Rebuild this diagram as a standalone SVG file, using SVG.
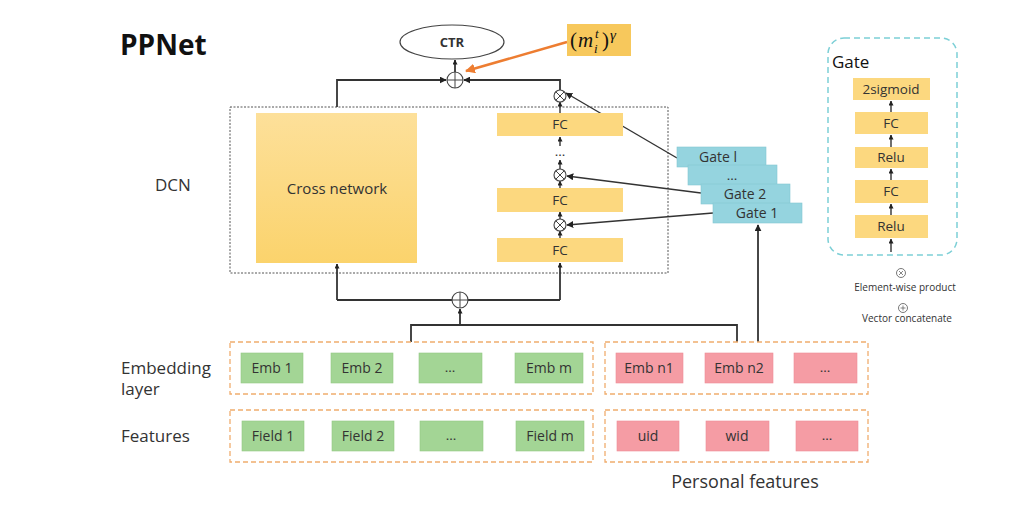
<svg xmlns="http://www.w3.org/2000/svg" width="1024" height="506" viewBox="0 0 1024 506">
<style>
text{font-family:"Open Sans","Noto Sans","Liberation Sans",sans-serif;fill:#333}
.lbl{font-size:17px}
.ctr{text-anchor:middle}
.yl{fill:#fcd87f}
.gr{fill:#a3d595;stroke:#93c884;stroke-width:0.6}
.rd{fill:#f59ca4;stroke:#ee8d96;stroke-width:0.6}
.gt{fill:#95d4df;stroke:#84c6d2;stroke-width:0.6}
.grp{fill:none;stroke:#f0ad6e;stroke-width:1.3;stroke-dasharray:5 3}
.ln{fill:none;stroke:#333;stroke-width:1.8}
.thin{fill:none;stroke:#333;stroke-width:1.4}
.op{fill:#fff;stroke:#444;stroke-width:1.1}
.box{font-size:14px}
.fc{font-size:13.5px}
.m{font-family:"Liberation Serif",serif;font-style:italic;fill:#111}
</style>
<defs>
<marker id="ah" viewBox="0 0 10 10" refX="9" refY="5" markerWidth="7" markerHeight="7" orient="auto" markerUnits="userSpaceOnUse"><path d="M0,0 L10,5 L0,10 z" fill="#222"/></marker>
<marker id="ahs" viewBox="0 0 10 10" refX="9" refY="5" markerWidth="5" markerHeight="5" orient="auto" markerUnits="userSpaceOnUse"><path d="M0,0 L10,5 L0,10 z" fill="#222"/></marker>
<marker id="aho" viewBox="0 0 10 10" refX="9" refY="5" markerWidth="10" markerHeight="10" orient="auto" markerUnits="userSpaceOnUse"><path d="M0,0 L10,5 L0,10 z" fill="#ed7d31"/></marker>
<linearGradient id="yg" x1="0" y1="0" x2="0" y2="1"><stop offset="0" stop-color="#fde09a"/><stop offset="1" stop-color="#fbd36c"/></linearGradient>
</defs>

<text x="120" y="55" style="font-size:28px;font-weight:bold;fill:#111">PPNet</text>
<text x="155" y="191" class="lbl">DCN</text>
<text x="121" y="374" class="lbl">Embedding</text>
<text x="121" y="395" class="lbl">layer</text>
<text x="121" y="442" class="lbl">Features</text>
<text x="745" y="488" class="ctr" style="font-size:18px">Personal features</text>

<rect x="230" y="107" width="438" height="166" fill="none" stroke="#555" stroke-width="1" stroke-dasharray="2 1.5"/>

<g id="connectors">
<path class="ln" d="M337,107 V80 H446" marker-end="url(#ah)"/>
<path class="ln" d="M560,90 V80 H464" marker-end="url(#ah)"/>
<path class="ln" d="M455,72 V60" marker-end="url(#ahs)"/>
<path d="M567,42 L466,71" fill="none" stroke="#ed7d31" stroke-width="2.5" marker-end="url(#aho)"/>
<path class="thin" d="M560,113 V102" marker-end="url(#ahs)"/>
<path class="thin" d="M560,146 V137" marker-end="url(#ahs)"/>
<path class="thin" d="M560,169 V160" marker-end="url(#ahs)"/>
<path class="thin" d="M560,188 V181" marker-end="url(#ahs)"/>
<path class="thin" d="M560,219 V212" marker-end="url(#ahs)"/>
<path class="thin" d="M560,238 V231" marker-end="url(#ahs)"/>
<path class="ln" d="M337,300 H560"/>
<path class="ln" d="M337,300 V264" marker-end="url(#ahs)"/>
<path class="ln" d="M560,300 V263" marker-end="url(#ahs)"/>
<path class="ln" d="M460,325 V309" marker-end="url(#ahs)"/>
<path class="ln" d="M411,342 V325 H737 V342"/>
<path class="ln" d="M758,342 V225" marker-end="url(#ah)"/>
<path class="thin" d="M677,158 L566,93" marker-end="url(#ah)"/>
<path class="thin" d="M701,193 L567,176" marker-end="url(#ah)"/>
<path class="thin" d="M713,213 L567,225" marker-end="url(#ah)"/>
<path class="thin" d="M891,112 V101" marker-end="url(#ahs)"/>
<path class="thin" d="M891,147 V135" marker-end="url(#ahs)"/>
<path class="thin" d="M891,180 V169" marker-end="url(#ahs)"/>
<path class="thin" d="M891,215 V204" marker-end="url(#ahs)"/>
<path class="thin" d="M891,252 V239" marker-end="url(#ahs)"/>
</g>

<g id="ctr"><ellipse cx="452" cy="42" rx="52" ry="17" fill="#fff" stroke="#444" stroke-width="1.2"/><text x="452" y="47" class="ctr" style="font-size:13px;font-weight:bold">CTR</text></g>
<g id="gamma"><rect x="567" y="24" width="64" height="32" fill="#f7c85c"/>
<text x="570" y="47" class="m" style="font-style:normal;font-size:21px">(</text>
<text x="578" y="47" class="m" style="font-size:21px">m</text>
<text x="594" y="53" class="m" style="font-size:13px">i</text>
<text x="595" y="38" class="m" style="font-size:13px">t</text>
<text x="602" y="47" class="m" style="font-style:normal;font-size:21px">)</text>
<text x="610" y="40" class="m" style="font-size:15px">γ</text>
</g>

<g id="concat-top"><circle cx="455" cy="80" r="8" class="op"/><path d="M447,80 H463 M455,72 V88" stroke="#444" stroke-width="1"/></g>
<g id="concat-bottom"><circle cx="460" cy="300" r="8" class="op"/><path d="M452,300 H468 M460,292 V308" stroke="#444" stroke-width="1"/></g>
<g id="prod-top"><circle cx="560" cy="96" r="6" class="op"/><path d="M556,92 L564,100 M564,92 L556,100" stroke="#444" stroke-width="1"/></g>
<g id="prod-2"><circle cx="560" cy="175" r="6" class="op"/><path d="M556,171 L564,179 M564,171 L556,179" stroke="#444" stroke-width="1"/></g>
<g id="prod-1"><circle cx="560" cy="225" r="6" class="op"/><path d="M556,221 L564,229 M564,221 L556,229" stroke="#444" stroke-width="1"/></g>

<g id="cross"><rect x="256" y="113" width="161" height="150" fill="url(#yg)"/><text x="337" y="194" class="ctr" style="font-size:15px">Cross network</text></g>
<g id="fc-l"><rect x="497" y="113" width="126" height="23" class="yl"/><text x="560" y="129" class="ctr fc">FC</text></g>
<text x="560" y="156" class="ctr fc">...</text>
<g id="fc-2"><rect x="497" y="188" width="126" height="24" class="yl"/><text x="560" y="205" class="ctr fc">FC</text></g>
<g id="fc-1"><rect x="497" y="238" width="126" height="24" class="yl"/><text x="560" y="255" class="ctr fc">FC</text></g>

<g id="gate-l"><rect x="677" y="147" width="89" height="20" class="gt"/><text x="718" y="162" class="ctr box">Gate l</text></g>
<g id="gate-dots"><rect x="688" y="165" width="89" height="20" class="gt"/><text x="732" y="180" class="ctr fc">...</text></g>
<g id="gate-2"><rect x="701" y="184" width="89" height="20" class="gt"/><text x="745" y="199" class="ctr box">Gate 2</text></g>
<g id="gate-1"><rect x="713" y="203" width="89" height="20" class="gt"/><text x="757" y="218" class="ctr box">Gate 1</text></g>

<g id="gate-legend">
<rect x="828" y="38" width="129" height="217" rx="16" fill="none" stroke="#7ccfd6" stroke-width="1.5" stroke-dasharray="6 4"/>
<text x="832" y="68" style="font-size:17px;fill:#111">Gate</text>
<rect x="853" y="78" width="77" height="22" class="yl"/><text x="891" y="94" class="ctr fc">2sigmoid</text>
<rect x="855" y="112" width="73" height="22" class="yl"/><text x="891" y="128" class="ctr fc">FC</text>
<rect x="855" y="147" width="73" height="21" class="yl"/><text x="891" y="162" class="ctr fc">Relu</text>
<rect x="855" y="180" width="73" height="23" class="yl"/><text x="891" y="196" class="ctr fc">FC</text>
<rect x="855" y="215" width="73" height="23" class="yl"/><text x="891" y="231" class="ctr fc">Relu</text>
</g>
<g id="legend">
<circle cx="901" cy="273" r="4.5" fill="#fff" stroke="#555" stroke-width="0.8"/><path d="M899,271 L903,275 M903,271 L899,275" stroke="#555" stroke-width="0.7"/>
<text x="905" y="291" class="ctr" style="font-size:10px">Element-wise product</text>
<circle cx="903" cy="308" r="4.5" fill="#fff" stroke="#555" stroke-width="0.8"/><path d="M900.5,308 H905.5 M903,305.5 V310.5" stroke="#555" stroke-width="0.7"/>
<text x="907" y="322" class="ctr" style="font-size:10px">Vector concatenate</text>
</g>

<g id="emb-group"><rect x="230" y="342" width="363" height="52" class="grp"/></g>
<g id="feat-group"><rect x="230" y="410" width="363" height="52" class="grp"/></g>
<g id="pemb-group"><rect x="605" y="342" width="263" height="52" class="grp"/></g>
<g id="pfeat-group"><rect x="605" y="410" width="263" height="52" class="grp"/></g>

<g id="emb1"><rect x="241" y="353" width="62" height="30" class="gr"/><text x="272" y="373" class="ctr box">Emb 1</text></g>
<g id="emb2"><rect x="331" y="353" width="62" height="30" class="gr"/><text x="362" y="373" class="ctr box">Emb 2</text></g>
<g id="emb-dots"><rect x="419" y="353" width="63" height="30" class="gr"/><text x="450" y="372" class="ctr fc">...</text></g>
<g id="embm"><rect x="515" y="353" width="68" height="30" class="gr"/><text x="549" y="373" class="ctr box">Emb m</text></g>
<g id="field1"><rect x="242" y="421" width="62" height="30" class="gr"/><text x="273" y="441" class="ctr box">Field 1</text></g>
<g id="field2"><rect x="332" y="421" width="62" height="30" class="gr"/><text x="363" y="441" class="ctr box">Field 2</text></g>
<g id="field-dots"><rect x="420" y="421" width="63" height="30" class="gr"/><text x="451" y="440" class="ctr fc">...</text></g>
<g id="fieldm"><rect x="516" y="421" width="68" height="30" class="gr"/><text x="550" y="441" class="ctr box">Field m</text></g>
<g id="embn1"><rect x="616" y="353" width="67" height="30" class="rd"/><text x="649" y="373" class="ctr box">Emb n1</text></g>
<g id="embn2"><rect x="705" y="353" width="68" height="30" class="rd"/><text x="739" y="373" class="ctr box">Emb n2</text></g>
<g id="pemb-dots"><rect x="794" y="353" width="63" height="30" class="rd"/><text x="825" y="372" class="ctr fc">...</text></g>
<g id="uid"><rect x="617" y="421" width="62" height="30" class="rd"/><text x="648" y="441" class="ctr box">uid</text></g>
<g id="wid"><rect x="706" y="421" width="63" height="30" class="rd"/><text x="737" y="441" class="ctr box">wid</text></g>
<g id="pfeat-dots"><rect x="796" y="421" width="62" height="30" class="rd"/><text x="827" y="440" class="ctr fc">...</text></g>
</svg>
